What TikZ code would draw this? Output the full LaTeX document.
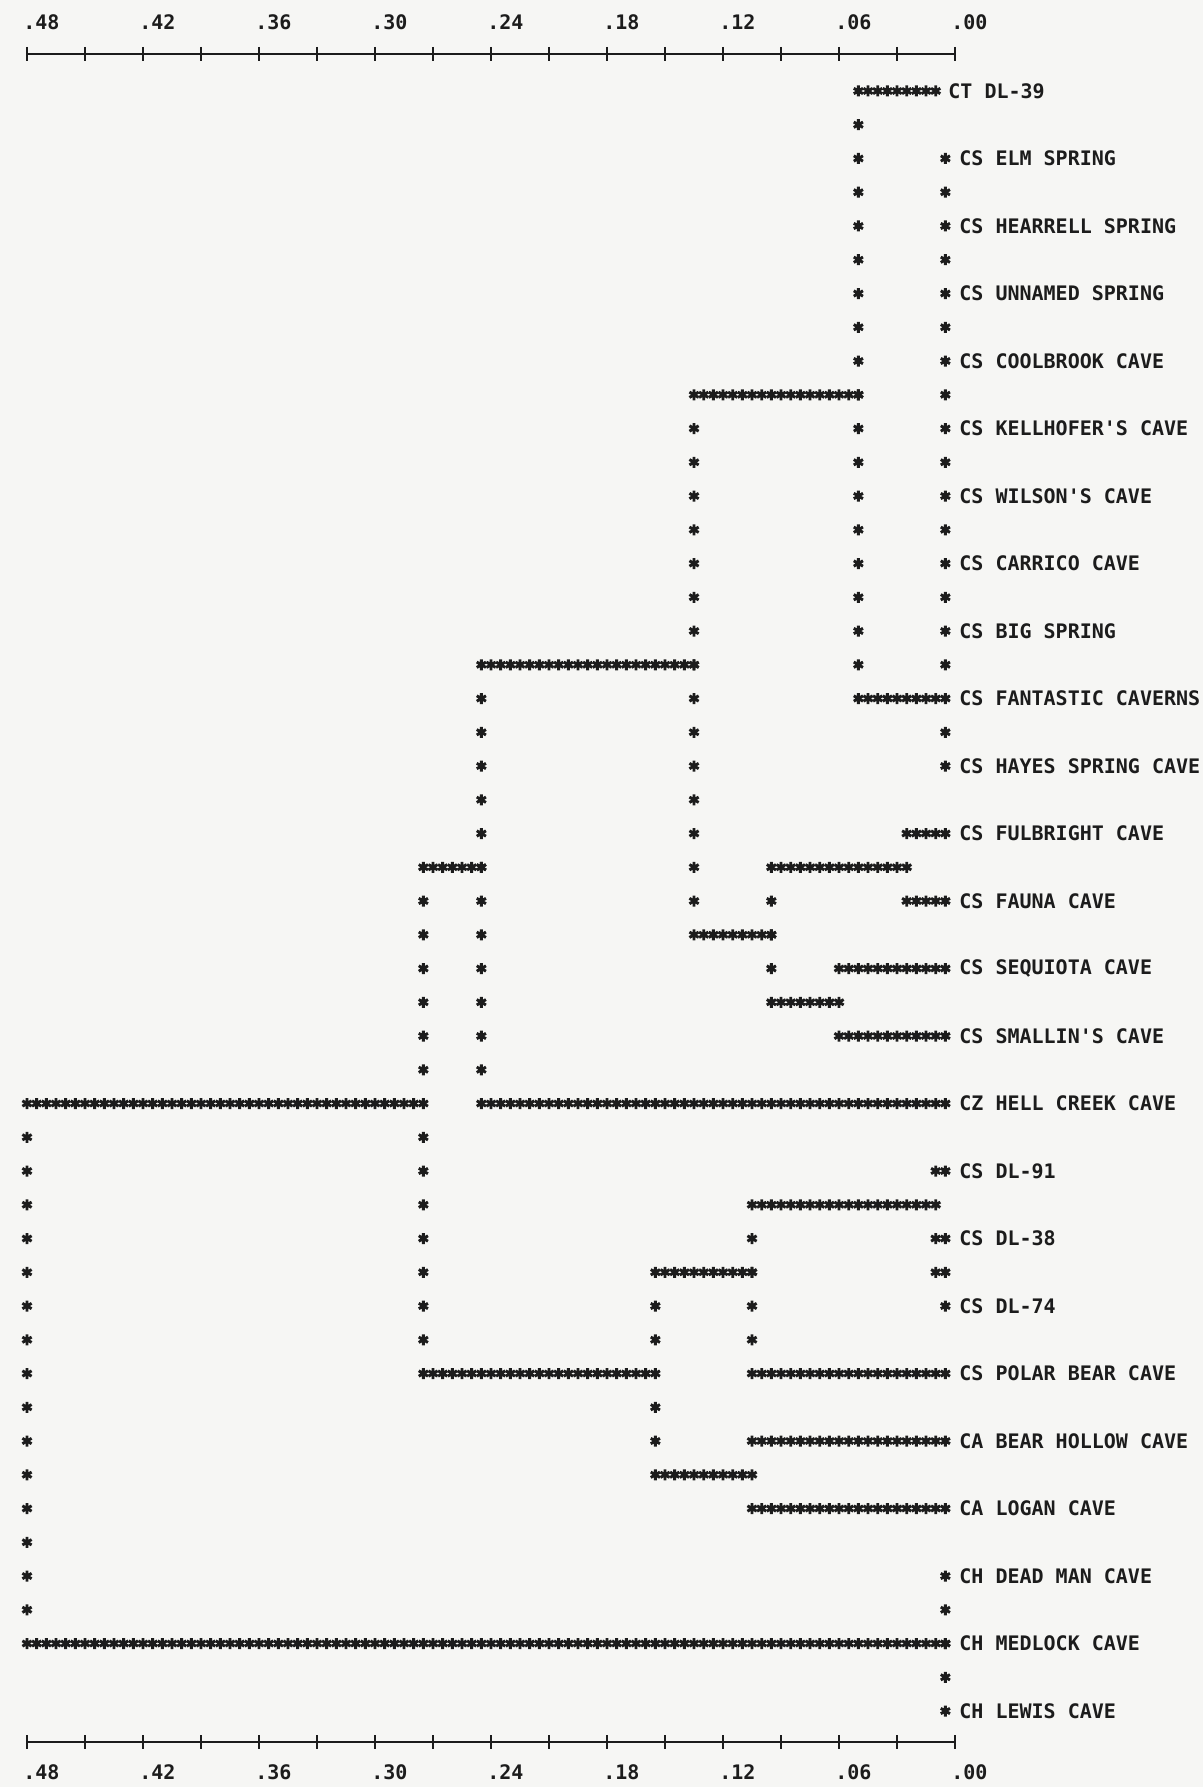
\documentclass[tikz,border=0pt]{standalone}
\usepackage{fontspec}
\usepackage{tikz}

\newfontfamily\dotfont{DejaVu Sans Mono}
\definecolor{paper}{RGB}{246,246,244}
\definecolor{ink}{RGB}{28,28,28}

% one printed column is .005, one printed line is 33.8 px
\newcommand{\hrun}[3]{\foreach \c in {#2,...,#3} \pic at ({27+9.667*\c},{91+33.75*#1}) {ast};}
\newcommand{\vrun}[3]{\foreach \l in {#2,...,#3} \pic at ({27+9.667*#1},{91+33.75*\l}) {ast};}

\tikzset{
    ast/.pic={\draw[ink, line width=1.45pt] (0,-5.5) -- (0,5.5) (-4.6,-2.7) -- (4.6,2.7) (-4.6,2.7) -- (4.6,-2.7);},
    cave/.style={anchor=west, inner sep=0pt, text=ink, font=\dotfont\bfseries\fontsize{10}{12}\selectfont},
    axis/.style={ink, line width=0.9pt}
}

\begin{document}
\begin{tikzpicture}[x=0.5pt, y=-0.5pt]
        \fill[paper] (0,0) rectangle (1203,1787);
        \useasboundingbox (0,0) rectangle (1203,1787);

        % scales
        \draw[axis] (27,54) -- (955,54);
        \draw[axis] (27,1742) -- (955,1742);
        \foreach \k in {0,...,16} {
            \draw[axis] ({27+58*\k},47) -- ++(0,14);
            \draw[axis] ({27+58*\k},1735) -- ++(0,14);
        }
        \foreach \k/\t in {0/.48,2/.42,4/.36,6/.30,8/.24,10/.18,12/.12,14/.06,16/.00} {
            \node[cave] (top\k) at ({23+58*\k},22) {\t};
            \node[cave] (bot\k) at ({23+58*\k},1772) {\t};
        }

        % horizontal runs: line/from/to
        \foreach \l/\a/\b in {0/86/94, 9/69/86, 17/47/69, 18/86/95, 22/91/95, 23/41/47, 23/77/91,
                24/91/95, 25/69/77, 26/84/95, 27/77/84, 28/84/95, 30/0/41, 30/47/95,
                32/94/95, 33/75/94, 34/94/95, 35/65/75, 35/94/95, 38/41/65, 38/75/95,
                40/75/95, 41/65/75, 42/75/95, 46/0/95}
            {\hrun{\l}{\a}{\b}}

        % vertical runs: column/from/to
        \foreach \c/\a/\b in {86/1/17, 95/2/17, 95/19/20, 69/10/24, 47/18/29, 41/24/29, 41/31/37,
                77/24/26, 75/34/37, 65/36/37, 65/39/40, 0/31/45, 95/36/36, 95/44/48}
            {\vrun{\c}{\a}{\b}}

        % caves
        \node[cave] (leaf0) at (948,91) {CT DL-39};
        \foreach \l/\t in {2/CS ELM SPRING, 4/CS HEARRELL SPRING, 6/CS UNNAMED SPRING,
                8/CS COOLBROOK CAVE, 10/CS KELLHOFER'S CAVE, 12/CS WILSON'S CAVE,
                14/CS CARRICO CAVE, 16/CS BIG SPRING, 18/CS FANTASTIC CAVERNS,
                20/CS HAYES SPRING CAVE, 22/CS FULBRIGHT CAVE, 24/CS FAUNA CAVE,
                26/CS SEQUIOTA CAVE, 28/CS SMALLIN'S CAVE, 30/CZ HELL CREEK CAVE,
                32/CS DL-91, 34/CS DL-38, 36/CS DL-74, 38/CS POLAR BEAR CAVE,
                40/CA BEAR HOLLOW CAVE, 42/CA LOGAN CAVE, 44/CH DEAD MAN CAVE,
                46/CH MEDLOCK CAVE, 48/CH LEWIS CAVE}
            \node[cave] (leaf\l) at (959,{91+33.75*\l}) {\t};
\end{tikzpicture}
\end{document}
